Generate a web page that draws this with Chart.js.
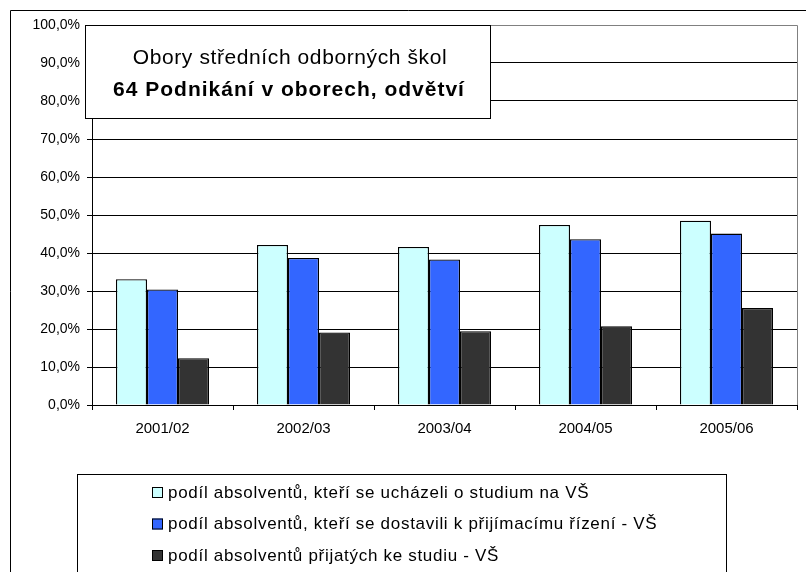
<!DOCTYPE html>
<html>
<head>
<meta charset="utf-8">
<script src="https://cdn.jsdelivr.net/npm/chart.js@4/dist/chart.umd.min.js"></script>
<style>
  body { margin: 0; background: #fff; }
  #wrap { width: 806px; height: 572px; }
</style>
</head>
<body>
<div id="wrap"><canvas id="chart" width="806" height="572"></canvas></div>
<script>
// Data
const years = ['2001/02', '2002/03', '2003/04', '2004/05', '2005/06'];
const applied = [33.1, 42.1, 41.6, 47.4, 48.5];
const attended = [30.4, 38.7, 38.3, 43.6, 45.1];
const admitted = [12.3, 19.1, 19.4, 20.7, 25.5];
const seriesNames = [
    'podíl absolventů, kteří se ucházeli o studium na VŠ',
    'podíl absolventů, kteří se dostavili k přijímacímu řízení - VŠ',
    'podíl absolventů přijatých ke studiu - VŠ'
];
const titleLines = ['Obory středních odborných škol', '64 Podnikání v oborech, odvětví'];

const FONT = 'Arial, "Liberation Sans", sans-serif';
Chart.defaults.font.family = FONT;
Chart.defaults.color = '#000';

// frame, title box and legend drawn on top of the chart
const decorations = {
    id: 'decorations',
    afterDraw(chart) {
        const ctx = chart.ctx;
        const area = chart.chartArea;
        ctx.save();

        // gray plot border top/right
        ctx.strokeStyle = '#808080';
        ctx.lineWidth = 1;
        ctx.beginPath();
        ctx.moveTo(area.left, area.top + 0.5);
        ctx.lineTo(area.right + 0.5, area.top + 0.5);
        ctx.lineTo(area.right + 0.5, area.bottom);
        ctx.stroke();

        // outer frame
        ctx.strokeStyle = '#000';
        ctx.beginPath();
        ctx.moveTo(10.5, 572);
        ctx.lineTo(10.5, 10.5);
        ctx.lineTo(806, 10.5);
        ctx.stroke();

        // title box
        ctx.fillStyle = '#fff';
        ctx.fillRect(85, 25, 405, 93);
        ctx.strokeRect(85.5, 25.5, 405, 93);
        ctx.fillStyle = '#000';
        ctx.textAlign = 'center';
        ctx.textBaseline = 'middle';
        ctx.letterSpacing = '0.6px';
        ctx.font = '21px ' + FONT;
        ctx.fillText(titleLines[0], 290, 58);
        ctx.letterSpacing = '1px';
        ctx.font = 'bold 21px ' + FONT;
        ctx.fillText(titleLines[1], 289, 90);

        // legend box
        ctx.strokeRect(77.5, 474.5, 649, 120);
        ctx.letterSpacing = '0.7px';
        ctx.font = '17px ' + FONT;
        ctx.textAlign = 'left';
        chart.data.datasets.forEach((ds, i) => {
            const y = 493 + i * 31.5;
            ctx.fillStyle = ds.backgroundColor;
            ctx.fillRect(152, y - 6, 11, 11);
            ctx.strokeRect(152.5, y - 5.5, 10, 10);
            ctx.fillStyle = '#000';
            ctx.fillText(ds.label, 168, y);
        });
        ctx.letterSpacing = '0px';
        ctx.restore();
    }
};

const config = {
    type: 'bar',
    data: {
        labels: years,
        datasets: [
            { label: seriesNames[0], data: applied, backgroundColor: '#CCFFFF' },
            { label: seriesNames[1], data: attended, backgroundColor: '#3366FF' },
            { label: seriesNames[2], data: admitted, backgroundColor: '#333333' }
        ]
    },
    options: {
        responsive: false,
        animation: false,
        layout: { padding: { left: 0, top: 25, right: 9, bottom: 137 } },
        datasets: {
            bar: {
                borderColor: '#000',
                borderWidth: 1.3,
                categoryPercentage: 0.66,
                barPercentage: 1.0
            }
        },
        plugins: {
            legend: { display: false },
            title: { display: false },
            tooltip: { enabled: false }
        },
        scales: {
            x: {
                afterFit(scale) { scale.height = 30; },
                grid: { drawOnChartArea: false, drawTicks: true, tickLength: 5, color: '#000', offset: true },
                border: { color: '#000' },
                ticks: { font: { size: 15 }, padding: 10, color: '#000' }
            },
            y: {
                min: 0,
                max: 100,
                afterFit(scale) { scale.width = 92; },
                grid: { color: '#000', tickLength: 5 },
                border: { color: '#000' },
                ticks: {
                    stepSize: 10,
                    padding: 7,
                    font: { size: 14 },
                    color: '#000',
                    callback: v => v.toFixed(1).replace('.', ',') + '%'
                }
            }
        }
    },
    plugins: [decorations]
};

const ctx = document.getElementById('chart').getContext('2d');
const chart = new Chart(ctx, config);
</script>
</body>
</html>
